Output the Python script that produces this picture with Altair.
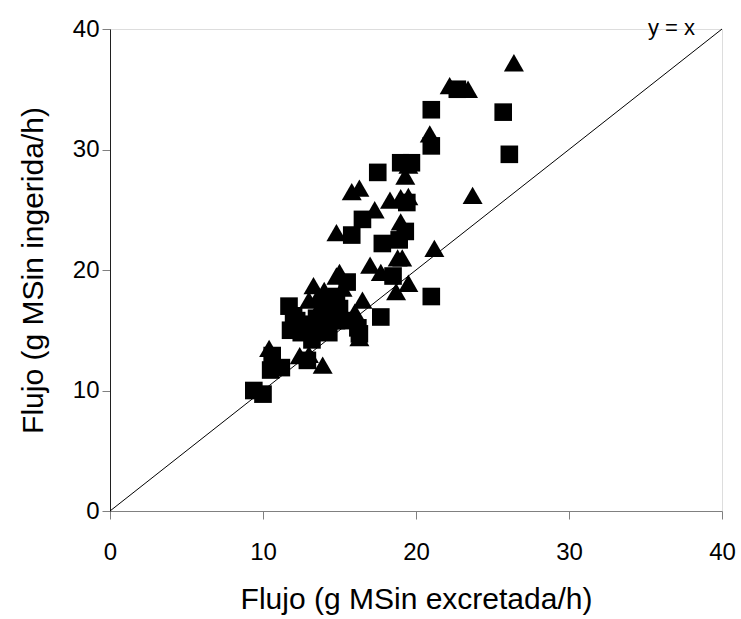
import altair as alt
import pandas as pd

sq_x = [9.4, 10.0, 10.5, 10.6, 11.2, 11.7, 11.8, 12.2, 12.5, 12.9, 13.0, 13.2, 13.5, 13.8,
        14.0, 14.3, 14.5, 14.8, 15.0, 15.3, 15.5, 15.8, 16.2, 16.3, 16.5, 17.5, 17.7, 17.8,
        18.9, 19.0, 19.3, 19.4, 19.7, 21.0, 21.0, 21.0, 22.7, 25.7, 26.1, 18.5, 12.0, 14.8]
sq_y = [10.0, 9.7, 11.7, 12.9, 11.9, 17.0, 15.0, 15.8, 14.8, 12.5, 15.5, 14.2, 16.0, 15.2,
        16.8, 14.8, 17.3, 15.8, 16.8, 15.8, 19.0, 22.9, 15.2, 14.7, 24.2, 28.1, 16.1, 22.2,
        22.5, 28.9, 23.2, 25.6, 28.9, 33.3, 30.3, 17.8, 35.0, 33.1, 29.6, 19.5, 16.2, 17.8]

tr_x = [10.4, 12.4, 13.0, 13.9, 12.5, 13.3, 13.0, 13.6, 14.0, 14.5, 14.8, 15.0, 14.8, 15.2,
        15.8, 16.3, 16.3, 16.0, 16.5, 17.0, 17.3, 17.7, 18.3, 18.7, 18.8, 19.0, 19.0, 19.1,
        19.5, 19.5, 19.3, 19.5, 20.9, 21.2, 22.2, 23.4, 23.7, 26.4, 13.5, 14.2]
tr_y = [13.5, 12.9, 13.0, 12.1, 15.5, 18.7, 17.5, 17.8, 18.3, 16.5, 19.5, 19.8, 23.1, 18.5,
        26.5, 26.8, 14.4, 16.5, 17.5, 20.4, 25.0, 19.8, 25.8, 18.2, 21.0, 26.0, 24.0, 21.0,
        26.1, 18.9, 27.8, 28.7, 31.3, 21.8, 35.3, 35.0, 26.2, 37.2, 16.5, 17.0]

line_x = [0, 40]
line_y = [0, 40]

FONT = "Liberation Sans"

sq = pd.DataFrame({"x": sq_x, "y": sq_y})
tr = pd.DataFrame({"x": tr_x, "y": tr_y})
ln = pd.DataFrame({"x": line_x, "y": line_y})
lab = pd.DataFrame({"x": [36.7], "y": [40.05], "t": ["y = x"]})

xs = alt.Scale(domain=[0, 40], nice=False, zero=False)
ys = alt.Scale(domain=[0, 40], nice=False, zero=False)

xax = alt.Axis(values=[0, 10, 20, 30, 40], grid=False, domainColor="#808080", tickColor="#808080",
               tickSize=8, labelFont=FONT, labelFontSize=24, labelColor="black", labelPadding=21,
               title="Flujo (g MSin excretada/h)", titleFont=FONT, titleFontSize=30,
               titleFontWeight="normal", titleColor="black", titlePadding=20, labelFlush=False)
yax = alt.Axis(values=[0, 10, 20, 30, 40], grid=False, domainColor="#202020", tickColor="#808080",
               tickSize=8, labelFont=FONT, labelFontSize=24, labelColor="black", labelPadding=3,
               title="Flujo (g MSin ingerida/h)", titleFont=FONT, titleFontSize=30,
               titleFontWeight="normal", titleColor="black", titlePadding=24, labelFlush=False)

line = alt.Chart(ln).mark_line(color="black", strokeWidth=1).encode(
    x=alt.X("x:Q", scale=xs, axis=xax), y=alt.Y("y:Q", scale=ys, axis=yax))

squares = alt.Chart(sq).mark_point(shape="square", filled=True, color="black", opacity=1, size=310).encode(
    x=alt.X("x:Q", scale=xs), y=alt.Y("y:Q", scale=ys))

tris = alt.Chart(tr).mark_point(shape="triangle-up", filled=True, color="black", opacity=1, size=400).encode(
    x=alt.X("x:Q", scale=xs), y=alt.Y("y:Q", scale=ys))

txt = alt.Chart(lab).mark_text(font=FONT, fontSize=22, color="black", align="center", baseline="middle").encode(
    x=alt.X("x:Q", scale=xs), y=alt.Y("y:Q", scale=ys), text="t:N")

chart = alt.layer(line, squares, tris, txt).properties(
    width=612, height=482,
    padding={"left": 110, "top": 29, "right": 19, "bottom": 108},
    autosize=alt.AutoSizeParams(type="none"),
).configure_view(stroke=None).configure(background="white")

chart.save("out.html", embed_options={"renderer": "svg", "actions": False})
